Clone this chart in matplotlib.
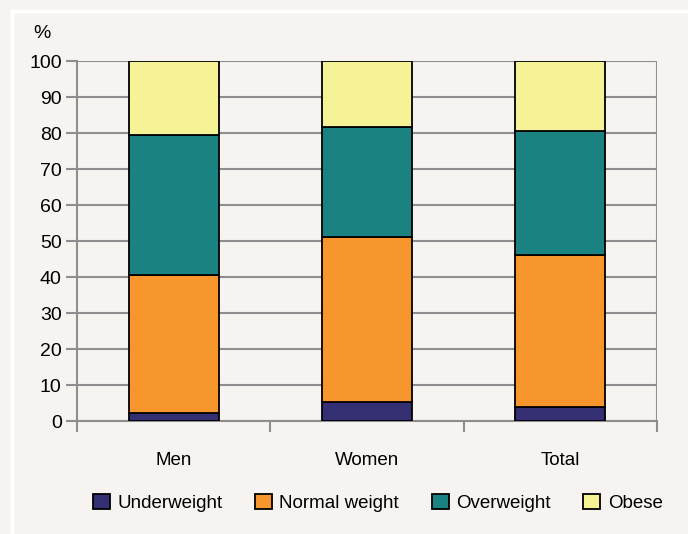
import numpy as np
import matplotlib.pyplot as plt
from matplotlib.lines import Line2D

plt.rcParams['font.family'] = ['Liberation Sans', 'DejaVu Sans']

# 체질량 분포 (%)
groups = ['Men', 'Women', 'Total']
underweight = [2.2, 5.4, 3.8]
normal = [38.3, 45.7, 42.3]
overweight = [38.9, 30.5, 34.4]
obese = [20.6, 18.4, 19.5]

series = [
    ('Underweight', underweight, '#332f72'),
    ('Normal weight', normal, '#f7962c'),
    ('Overweight', overweight, '#1b8282'),
    ('Obese', obese, '#f6f296'),
]

bg = '#f6f3f0'
grid_col = '#8d8d92'

fig = plt.figure(figsize=(6.88, 5.34), dpi=100, facecolor=bg)
ax = fig.add_axes([77 / 688, 1 - 421 / 534, 580 / 688, 360 / 534])
ax.set_facecolor(bg)

# 흰색 테두리 (위, 왼쪽)
fig.add_artist(Line2D([12 / 688, 1], [1 - 11 / 534] * 2, color='white', lw=2.5,
                      transform=fig.transFigure))
fig.add_artist(Line2D([12 / 688] * 2, [0, 1 - 11 / 534], color='white', lw=2.5,
                      transform=fig.transFigure))

x = np.arange(len(groups))
bottom = np.zeros(len(groups))
for name, vals, col in series:
    ax.bar(x, vals, 0.466, bottom=bottom, color=col, edgecolor='black',
           linewidth=1.3, label=name, zorder=3)
    bottom += np.array(vals)

ax.set_xlim(-0.5, 2.5)
ax.set_ylim(0, 100)
ax.set_yticks(range(0, 101, 10))
ax.yaxis.grid(True, color=grid_col, lw=1.5, zorder=0)
ax.axvline(2.5, color=grid_col, lw=1.5, zorder=0)

for s in ['top', 'right']:
    ax.spines[s].set_visible(False)
for s in ['left', 'bottom']:
    ax.spines[s].set_color(grid_col)
    ax.spines[s].set_linewidth(1.5)

# 카테고리 경계에 눈금
ax.set_xticks([-0.5, 0.5, 1.5, 2.5])
ax.set_xticklabels([])
ax.set_xticks(x, minor=True)
ax.set_xticklabels(groups, minor=True, fontsize=13.5)
ax.tick_params(axis='x', which='minor', length=0, pad=22)
ax.tick_params(axis='x', which='major', length=8, width=1.5, color=grid_col)
ax.tick_params(axis='y', length=8, width=1.5, color=grid_col, labelsize=14,
               pad=3)

fig.text(42 / 688, 1 - 33 / 534, '%', ha='center', va='center', fontsize=14)

leg = fig.legend(loc='center', bbox_to_anchor=(0.549, 1 - 503 / 534), ncol=4,
                 frameon=False, fontsize=13.5, handlelength=0.9,
                 handleheight=0.9, handletextpad=0.4, columnspacing=1.75)
for h in leg.legend_handles:
    h.set_linewidth(1.3)

fig.savefig('out.png', dpi=100, facecolor=bg)
